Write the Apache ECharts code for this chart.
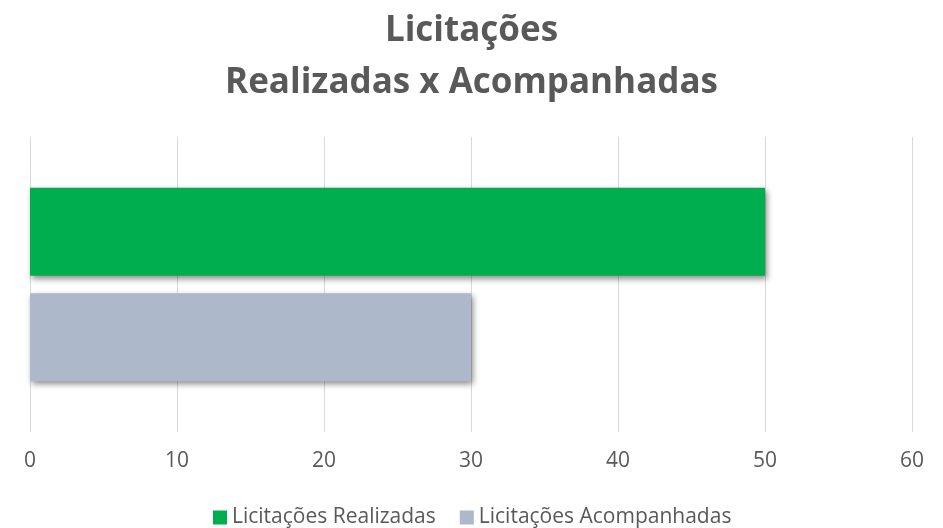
<!DOCTYPE html>
<html>
<head>
<meta charset="utf-8">
<script src="https://cdn.jsdelivr.net/npm/echarts@6/dist/echarts.min.js"></script>
<style>html,body{margin:0;padding:0;background:#fff}#c{width:943px;height:528px}</style>
</head>
<body>
<div id="c"></div>
<script>
const categories = ['Licitações'];
const seriesNames = ['Licitações Realizadas', 'Licitações Acompanhadas'];
const realizadas = [50];
const acompanhadas = [30];
const colors = ['#00AE4F', '#ADB9CA'];

const chart = echarts.init(document.getElementById('c'));
const shadow = {shadowColor: 'rgba(0,0,0,0.45)', shadowBlur: 6, shadowOffsetX: 2, shadowOffsetY: 3};
chart.setOption({
  animation: false,
  title: {
    text: 'Licitações\nRealizadas x Acompanhadas',
    left: 'center', top: 0,
    textStyle: {fontFamily: 'Open Sans', fontWeight: 'bold', fontSize: 35, color: '#595959', lineHeight: 52}
  },
  legend: {
    top: 502, left: 208, itemWidth: 14, itemHeight: 14, itemGap: 24,
    icon: 'rect',
    textStyle: {fontFamily: 'Open Sans', fontSize: 21, color: '#595959'},
    data: seriesNames
  },
  grid: {left: 30, right: 31, top: 137, bottom: 96, containLabel: false},
  xAxis: {
    type: 'value', min: 0, max: 60, interval: 10,
    axisLine: {show: false}, axisTick: {show: false},
    axisLabel: {fontFamily: 'Open Sans', fontSize: 21, color: '#595959', margin: 19},
    splitLine: {lineStyle: {color: '#D9D9D9', width: 1}}
  },
  yAxis: {
    type: 'category', data: categories, inverse: true,
    axisLine: {show: false}, axisTick: {show: false}, axisLabel: {show: false}
  },
  series: [
    {name: seriesNames[0], type: 'bar', data: realizadas, barWidth: 88, barGap: '20%',
     itemStyle: Object.assign({color: colors[0]}, shadow)},
    {name: seriesNames[1], type: 'bar', data: acompanhadas, barWidth: 88, barGap: '20%',
     itemStyle: Object.assign({color: colors[1]}, shadow)}
  ]
});
</script>
</body>
</html>
